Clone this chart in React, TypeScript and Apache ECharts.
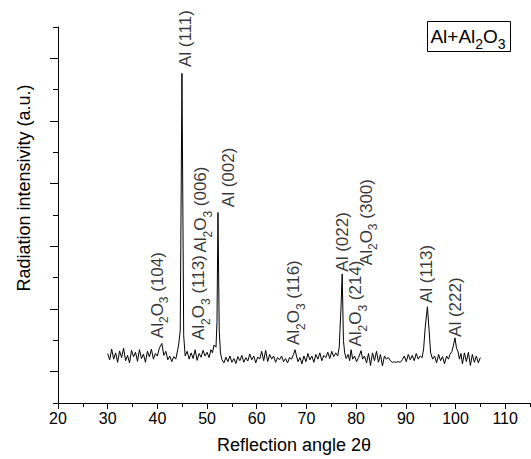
import React, { useEffect, useRef } from "react";
import * as echarts from "echarts";

// Diffraction trace: angle 2θ (deg) and intensity (a.u.)
const twoTheta = [
  30.0, 30.4, 30.8, 31.2, 31.6, 32.0, 32.4, 32.8, 33.2, 33.6, 34.0, 34.4, 34.8, 35.2, 35.6, 36.0,
  36.4, 36.8, 37.2, 37.6, 38.0, 38.4, 38.8, 39.2, 39.6, 40.0, 40.4, 40.9, 41.3, 41.7, 42.1, 42.5,
  42.9, 43.3, 43.7, 44.1, 44.3, 44.6, 44.95, 45.3, 45.6, 46.0, 46.4, 46.8, 47.2, 47.6, 48.0, 48.4,
  48.8, 49.2, 49.6, 50.0, 50.4, 50.8, 51.1, 51.4, 51.8, 52.0, 52.2, 52.45, 52.7, 53.0, 53.4, 53.8,
  54.2, 54.6, 55.0, 55.4, 55.8, 56.2, 56.6, 57.0, 57.4, 57.8, 58.2, 58.6, 59.0, 59.4, 59.8, 60.2,
  60.6, 61.0, 61.4, 61.8, 62.2, 62.6, 63.0, 63.4, 63.8, 64.2, 64.6, 65.0, 65.4, 65.8, 66.2, 66.6,
  67.0, 67.4, 67.7, 68.0, 68.3, 68.7, 69.1, 69.5, 69.9, 70.3, 70.7, 71.1, 71.5, 71.9, 72.3, 72.7,
  73.1, 73.5, 73.9, 74.3, 74.7, 75.1, 75.5, 75.9, 76.3, 76.6, 76.95, 77.2, 77.45, 77.7, 78.0, 78.4,
  78.7, 79.0, 79.3, 79.7, 80.1, 80.5, 81.0, 81.3, 81.7, 82.1, 82.5, 82.9, 83.3, 83.7, 84.1, 84.5,
  84.9, 85.3, 85.7, 86.1, 86.5, 86.9, 87.3, 87.7, 88.1, 88.5, 88.9, 89.3, 89.7, 90.1, 90.5, 90.9,
  91.3, 91.7, 92.1, 92.5, 92.9, 93.3, 93.6, 93.9, 94.35, 94.7, 95.0, 95.4, 95.8, 96.2, 96.6, 97.0,
  97.4, 97.8, 98.2, 98.6, 98.9, 99.3, 99.6, 99.9, 100.2, 100.5, 100.8, 101.1, 101.4, 101.8, 102.2, 102.6,
  103.0, 103.4, 103.8, 104.2, 104.6, 105.0,
];
const intensity = [
  158, 138, 172, 140, 160, 130, 166, 145, 175, 135, 152, 128, 168, 148, 162, 133,
  170, 142, 156, 130, 165, 147, 172, 140, 158, 150, 175, 190, 152, 165, 138, 150,
  132, 148, 140, 170, 188, 230, 1052, 215, 150, 165, 140, 160, 142, 170, 136, 158,
  146, 168, 150, 162, 145, 170, 160, 185, 178, 260, 608, 230, 160, 138, 128, 146,
  132, 150, 130, 142, 126, 148, 135, 152, 130, 145, 134, 156, 138, 150, 128, 147,
  140, 165, 135, 168, 132, 155, 140, 150, 130, 145, 138, 150, 132, 142, 128, 145,
  140, 155, 170, 150, 132, 145, 125, 150, 132, 158, 138, 150, 130, 155, 140, 160,
  135, 152, 145, 162, 142, 165, 148, 160, 150, 178, 300, 412, 200, 160, 142, 155,
  135, 170, 140, 150, 132, 145, 167, 140, 150, 128, 158, 120, 160, 135, 165, 130,
  155, 118, 150, 140, 145, 135, 130, 131, 130, 132, 130, 138, 150, 132, 155, 138,
  152, 135, 158, 140, 150, 145, 175, 240, 307, 230, 160, 140, 150, 128, 155, 135,
  148, 125, 150, 140, 155, 165, 185, 208, 175, 165, 140, 158, 125, 160, 132, 162,
  120, 155, 130, 150, 128, 145,
];

// Reflection annotations: name, angle and intensity at which the label starts
const peakLabels = [
  "Al2O3 (104)", "Al (111)", "Al2O3 (113)", "Al2O3 (006)", "Al (002)", "Al2O3 (116)",
  "Al (022)", "Al2O3 (214)", "Al2O3 (300)", "Al (113)", "Al (222)",
];
const peakLabelAngle = [40.0, 45.6, 48.35, 48.75, 54.4, 67.4, 77.18, 79.9, 82.0, 94.19, 100.03];
const peakLabelIntensity = [207, 1072, 201, 480, 625, 185, 419, 180, 440, 319, 211];

const legendText = "Al+Al2O3";

const FONT = "'Liberation Sans', Arial, sans-serif";
const NARROW = "'Liberation Sans Narrow', 'Arial Narrow', 'Liberation Sans', sans-serif";

function toRich(s: string): string {
  if (s.startsWith("Al2O3")) return "{n|Al}{s|2}{n|O}{s|3}{n|" + s.slice(5) + "}";
  return "{n|" + s + "}";
}

export default function App() {
  const ref = useRef<HTMLDivElement>(null);
  useEffect(() => {
    const chart = echarts.init(ref.current!, undefined, { renderer: "svg" });
    const pairs = twoTheta.map((x, i) => [x, intensity[i]]);
    const labelData = peakLabels.map((_, i) => [peakLabelAngle[i], peakLabelIntensity[i]]);
    const option: any = {
      animation: false,
      backgroundColor: "#ffffff",
      grid: { left: 58, right: 1, top: 27, bottom: 56, containLabel: false },
      xAxis: [
        {
          type: "value",
          position: "bottom",
          min: 20,
          max: 115,
          interval: 10,
          name: "Reflection angle 2θ",
          nameLocation: "middle",
          nameGap: 33,
          nameTextStyle: { fontSize: 18, fontFamily: FONT, color: "#000" },
          axisLine: { show: true, onZero: false, lineStyle: { color: "#000", width: 1 } },
          axisTick: { show: true, length: 6, inside: false, lineStyle: { color: "#000", width: 1 } },
          axisLabel: {
            show: true,
            margin: 7,
            fontSize: 16,
            fontFamily: NARROW,
            color: "#000",
            showMaxLabel: false,
            formatter: (v: number) => (v % 10 === 0 ? String(v) : ""),
          },
          splitLine: { show: false },
        },
        {
          type: "value",
          position: "bottom",
          min: 20,
          max: 115,
          interval: 5,
          axisLine: { show: false, onZero: false },
          axisTick: { show: true, length: 4, inside: false, lineStyle: { color: "#000", width: 1 } },
          axisLabel: { show: false },
          splitLine: { show: false },
        },
      ],
      yAxis: {
        type: "value",
        min: 0,
        max: 1200,
        interval: 200,
        name: "Radiation intensivity (a.u.)",
        nameLocation: "middle",
        nameGap: 25,
        nameTextStyle: { fontSize: 18, fontFamily: FONT, color: "#000", padding: [0, 0, 0, 54] },
        axisLine: { show: true, onZero: false, lineStyle: { color: "#000", width: 1 } },
        axisTick: { show: true, length: 5, inside: false, lineStyle: { color: "#000", width: 1 } },
        minorTick: { show: true, splitNumber: 2, length: 8, lineStyle: { color: "#000", width: 1 } },
        axisLabel: { show: false },
        splitLine: { show: false },
        minorSplitLine: { show: false },
      },
      series: [
        {
          type: "line",
          xAxisIndex: 0,
          yAxisIndex: 0,
          data: pairs,
          showSymbol: false,
          symbol: "none",
          lineStyle: { color: "#000", width: 1 },
        },
        {
          type: "scatter",
          xAxisIndex: 0,
          yAxisIndex: 0,
          data: labelData,
          symbolSize: 1,
          itemStyle: { color: "rgba(0,0,0,0)" },
          silent: true,
          label: {
            show: true,
            position: "inside",
            rotate: 90,
            align: "left",
            verticalAlign: "middle",
            formatter: (p: any) => toRich(peakLabels[p.dataIndex]),
            rich: {
              n: { fontSize: 17, fontFamily: FONT, color: "#000", lineHeight: 26 },
              s: { fontSize: 12, fontFamily: FONT, color: "#000", lineHeight: 12, verticalAlign: "bottom" },
            },
          },
        },
      ],
      graphic: [
        {
          type: "group",
          children: [
            {
              type: "rect",
              shape: { x: 427.5, y: 21.5, width: 83, height: 30 },
              style: { fill: "#fff", stroke: "#000", lineWidth: 1 },
            },
            {
              type: "text",
              x: 468,
              y: 36.5,
              style: {
                text: "{n|Al+Al}{s|2}{n|O}{s|3}",
                align: "center",
                verticalAlign: "middle",
                rich: {
                  n: { fontSize: 19, fontFamily: FONT, fill: "#000", lineHeight: 28 },
                  s: { fontSize: 14, fontFamily: FONT, fill: "#000", lineHeight: 14, verticalAlign: "bottom" },
                },
              },
            },
          ],
        },
      ],
    };
    chart.setOption(option);
    return () => chart.dispose();
  }, []);
  return (
    <div
      ref={ref}
      data-legend={legendText}
      style={{ position: "fixed", left: 0, top: 0, width: 531, height: 459, background: "#fff" }}
    />
  );
}
